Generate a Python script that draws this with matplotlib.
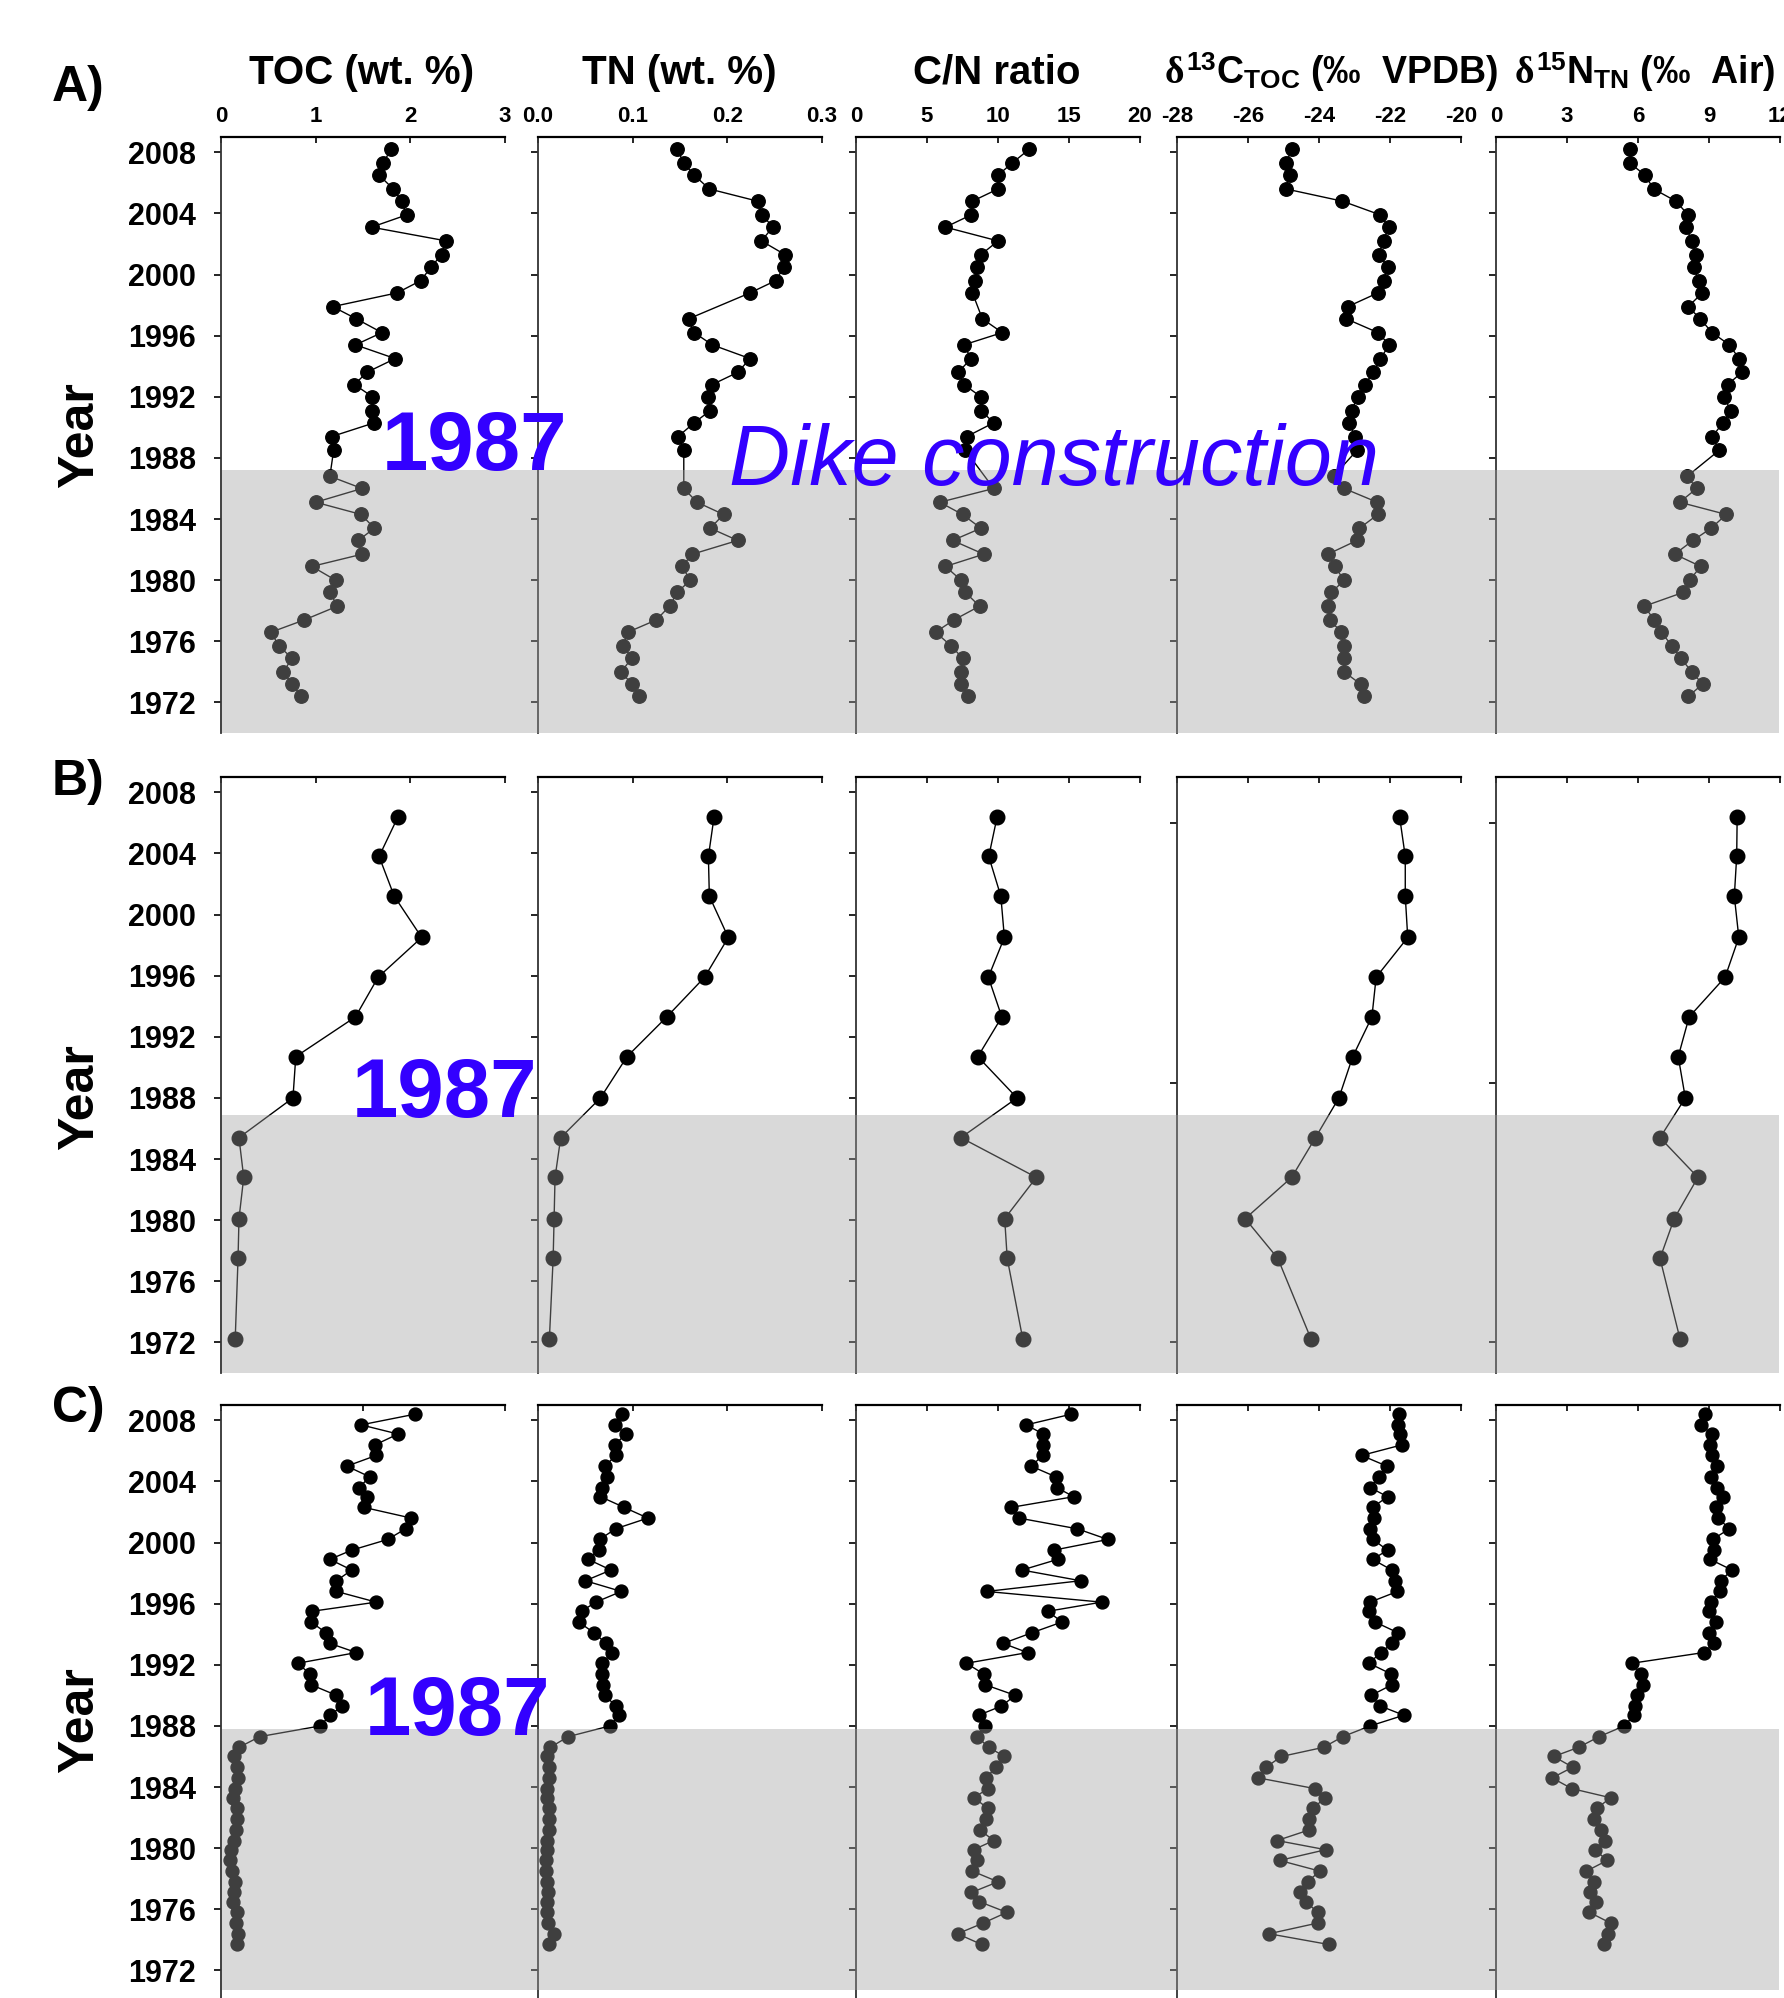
import numpy as np
import matplotlib
matplotlib.use("Agg")
import matplotlib.pyplot as plt
from matplotlib.patches import Rectangle
from matplotlib.transforms import blended_transform_factory

# ------------------------------
# Data
# ------------------------------
nan = np.nan

# Row A: core with yearly-ish sampling
years_a = [2008.2, 2007.3, 2006.5, 2005.6, 2004.8, 2003.9, 2003.1, 2002.2, 2001.3, 2000.5,
           1999.6, 1998.8, 1997.9, 1997.1, 1996.2, 1995.4, 1994.5, 1993.6, 1992.8, 1992.0,
           1991.1, 1990.3, 1989.4, 1988.5, 1986.8, 1986.0, 1985.1, 1984.3, 1983.4, 1982.6,
           1981.7, 1980.9, 1980.0, 1979.2, 1978.3, 1977.4, 1976.6, 1975.7, 1974.9, 1974.0,
           1973.2, 1972.4]
toc_a = [1.80, 1.71, 1.67, 1.82, 1.91, 1.96, 1.59, 2.38, 2.33, 2.22,
         2.11, 1.86, 1.18, 1.43, 1.70, 1.42, 1.84, 1.54, 1.41, 1.60,
         1.60, 1.62, 1.17, 1.19, 1.15, 1.49, 1.00, 1.48, 1.62, 1.45,
         1.49, 0.96, 1.21, 1.15, 1.23, 0.88, 0.53, 0.61, 0.75, 0.66,
         0.75, 0.85]
tn_a = [0.147, 0.154, 0.165, 0.181, 0.232, 0.237, 0.248, 0.236, 0.261, 0.260,
        0.251, 0.224, nan, 0.159, 0.165, 0.184, 0.224, 0.211, 0.184, 0.180,
        0.182, 0.165, 0.148, 0.154, nan, 0.154, 0.168, 0.196, 0.182, 0.211,
        0.163, 0.152, 0.161, 0.147, 0.139, 0.125, 0.095, 0.090, 0.099, 0.088,
        0.099, 0.107]
cn_a = [12.2, 11.0, 10.0, 10.0, 8.2, 8.1, 6.3, 10.0, 8.8, 8.5,
        8.4, 8.2, nan, 8.9, 10.3, 7.6, 8.1, 7.2, 7.6, 8.8,
        8.8, 9.7, 7.8, 7.7, nan, 9.7, 5.9, 7.5, 8.8, 6.8,
        9.0, 6.3, 7.4, 7.7, 8.7, 6.9, 5.6, 6.7, 7.5, 7.4,
        7.4, 7.9]
d13c_a = [-24.76, -24.93, -24.83, -24.93, -23.34, -22.27, -22.04, -22.18, -22.32, -22.06,
          -22.18, -22.34, -23.19, -23.23, -22.34, -22.02, -22.27, -22.47, -22.71, -22.91,
          -23.08, -23.16, -22.98, -22.93, -23.59, -23.29, -22.36, -22.34, -22.86, -22.93,
          -23.75, -23.56, -23.29, -23.65, -23.74, -23.70, -23.37, -23.30, -23.30, -23.29,
          -22.83, -22.73]
d15n_a = [5.67, 5.65, 6.30, 6.66, 7.60, 8.12, 8.01, 8.29, 8.44, 8.37,
          8.56, 8.72, 8.12, 8.63, 9.13, 9.86, 10.27, 10.39, 9.79, 9.64,
          9.91, 9.59, 9.14, 9.43, 8.08, 8.48, 7.76, 9.73, 9.09, 8.32,
          7.55, 8.65, 8.18, 7.91, 6.27, 6.68, 6.99, 7.43, 7.81, 8.27,
          8.73, 8.13]

# Row B: coarse sampling
years_b = [2006.4, 2003.8, 2001.2, 1998.5, 1995.9, 1993.3, 1990.7, 1988.0, 1985.4, 1982.8,
           1980.1, 1977.5, 1972.2]
toc_b = [1.87, 1.67, 1.83, 2.12, 1.66, 1.42, 0.79, 0.76, 0.19, 0.24, 0.19, 0.18, 0.15]
tn_b = [0.186, 0.180, 0.181, 0.201, 0.176, 0.136, 0.094, 0.066, 0.024, 0.018, 0.017, 0.016, 0.012]
cn_b = [9.94, 9.35, 10.2, 10.45, 9.32, 10.27, 8.58, 11.34, 7.39, 12.7, 10.47, 10.65, 11.75]
d13c_b = [-21.73, -21.57, -21.57, -21.50, -22.39, -22.51, -23.05, -23.44, -24.10, -24.77,
          -26.08, -25.16, -24.22]
d15n_b = [10.19, 10.17, 10.07, 10.26, 9.68, 8.16, 7.70, 8.00, 6.93, 8.53, 7.53, 6.93, 7.78]

# Row C: dense sampling
years_c = [2008.4, 2007.7, 2007.1, 2006.4, 2005.7, 2005.0, 2004.3, 2003.6, 2003.0, 2002.3,
           2001.6, 2000.9, 2000.2, 1999.5, 1998.9, 1998.2, 1997.5, 1996.8, 1996.1, 1995.5,
           1994.8, 1994.1, 1993.4, 1992.8, 1992.1, 1991.4, 1990.7, 1990.0, 1989.3, 1988.7,
           1988.0, 1987.3, 1986.6, 1986.0, 1985.3, 1984.6, 1983.9, 1983.3, 1982.6, 1981.9,
           1981.2, 1980.5, 1979.9, 1979.2, 1978.5, 1977.8, 1977.1, 1976.5, 1975.8, 1975.1,
           1974.4, 1973.7]
toc_c = [2.05, 1.48, 1.87, 1.63, 1.64, 1.33, 1.57, 1.46, 1.54, 1.51,
         2.01, 1.95, 1.76, 1.38, 1.15, 1.38, 1.22, 1.22, 1.64, 0.96,
         0.95, 1.11, 1.15, 1.43, 0.81, 0.94, 0.95, 1.22, 1.28, 1.15,
         1.05, 0.41, 0.19, 0.14, 0.17, 0.18, 0.15, 0.13, 0.17, 0.17,
         0.16, 0.14, 0.11, 0.10, 0.12, 0.15, 0.14, 0.13, 0.17, 0.16,
         0.18, 0.17]
tn_c = [0.089, 0.081, 0.093, 0.081, 0.082, 0.071, 0.073, 0.068, 0.066, 0.091,
        0.116, 0.082, 0.065, 0.064, 0.053, 0.077, 0.050, 0.088, 0.061, 0.046,
        0.043, 0.059, 0.072, 0.078, 0.068, 0.068, 0.069, 0.071, 0.082, 0.086,
        0.076, 0.032, 0.013, 0.009, 0.012, 0.012, 0.010, 0.010, 0.012, 0.012,
        0.012, 0.009, 0.009, 0.008, 0.008, 0.009, 0.011, 0.010, 0.010, 0.011,
        0.017, 0.012]
cn_c = [15.16, 11.99, 13.18, 13.18, 13.15, 12.34, 14.07, 14.12, 15.34, 10.92,
        11.48, 15.58, 17.74, 13.92, 14.21, 11.69, 15.82, 9.20, 17.30, 13.50,
        14.51, 12.40, 10.36, 12.08, 7.77, 8.99, 9.08, 11.22, 10.24, 8.64,
        9.05, 8.52, 9.35, 10.45, 9.85, 9.17, 9.29, 8.31, 9.29, 9.17,
        8.72, 9.70, 8.28, 8.49, 8.19, 10.00, 8.13, 8.69, 10.62, 8.96,
        7.15, 8.84]
d13c_c = [-21.75, -21.77, -21.73, -21.65, -22.80, -22.09, -22.31, -22.56, -22.07, -22.49,
          -22.46, -22.57, -22.48, -22.07, -22.49, -21.95, -21.85, -21.79, -22.56, -22.60,
          -22.42, -21.78, -21.94, -22.26, -22.59, -21.97, -21.94, -22.53, -22.27, -21.61,
          -22.56, -23.33, -23.87, -25.06, -25.49, -25.71, -24.12, -23.83, -24.17, -24.28,
          -24.27, -25.18, -23.81, -25.11, -23.98, -24.32, -24.54, -24.38, -24.03, -24.04,
          -25.41, -23.73]
d15n_c = [8.84, 8.65, 9.13, 9.05, 9.11, 9.32, 9.10, 9.35, 9.61, 9.28,
          9.39, 9.86, 9.15, 9.23, 9.05, 9.97, 9.49, 9.47, 9.08, 8.99,
          9.30, 8.98, 9.22, 8.77, 5.74, 6.12, 6.20, 5.95, 5.89, 5.83,
          5.42, 4.36, 3.49, 2.44, 3.24, 2.37, 3.20, 4.84, 4.26, 4.12,
          4.45, 4.62, 4.17, 4.70, 3.82, 4.12, 3.99, 4.22, 3.95, 4.84,
          4.75, 4.55]

# shaded (pre-dike) period per row: bottom year, top year
shade_a = (1970.0, 1987.2)
shade_b = (1970.0, 1986.9)
shade_c = (1970.7, 1987.8)

col_titles = ["TOC (wt. %)", "TN (wt. %)", "C/N ratio",
              r"$\delta^{13}$C$_{\mathrm{TOC}}$ (‰  VPDB)",
              r"$\delta^{15}$N$_{\mathrm{TN}}$ (‰  Air)"]
row_labels = ["A)", "B)", "C)"]
year_ticks = [2008, 2004, 2000, 1996, 1992, 1988, 1984, 1980, 1976, 1972]
year_ticks_b_iso = [2006, 1989, 1972]

x_limits = [(0, 3), (0, 0.3), (0, 20), (-28, -20), (0, 12)]
x_ticks = [[0, 1, 2, 3], [0.0, 0.1, 0.2, 0.3], [0, 5, 10, 15, 20],
           [-28, -26, -24, -22, -20], [0, 3, 6, 9, 12]]
x_ticklabels = [["0", "1", "2", "3"], ["0.0", "0.1", "0.2", "0.3"],
                ["0", "5", "10", "15", "20"], ["-28", "-26", "-24", "-22", "-20"],
                ["0", "3", "6", "9", "12"]]
toc_ticks_c = [0, 1.5, 3]

rows = [
    (years_a, [toc_a, tn_a, cn_a, d13c_a, d15n_a], shade_a),
    (years_b, [toc_b, tn_b, cn_b, d13c_b, d15n_b], shade_b),
    (years_c, [toc_c, tn_c, cn_c, d13c_c, d15n_c], shade_c),
]

# ------------------------------
# Style / layout (pixels of a 1784 x 1998 canvas)
# ------------------------------
plt.rcParams["font.family"] = ["Liberation Sans", "DejaVu Sans"]
plt.rcParams["font.weight"] = "bold"
plt.rcParams["mathtext.fontset"] = "custom"
plt.rcParams["mathtext.rm"] = "Liberation Sans:bold"
plt.rcParams["mathtext.bf"] = "Liberation Sans:bold"
plt.rcParams["mathtext.it"] = "Liberation Serif"

W, H = 1784, 1998
col_left = [221, 538, 856, 1177, 1496]
col_w = 284
row_top = [137, 777, 1405]
row_h = 596
marker_size = [9.7, 10.5, 9.3]
blue = "#3300ff"

fig = plt.figure(figsize=(W / 100, H / 100), dpi=100)


def px_axes(left, top, w, h):
    return fig.add_axes([left / W, 1 - (top + h) / H, w / W, h / H])


def fig_y(py):
    return 1 - py / H


for r, (yrs, series, shade) in enumerate(rows):
    yrs = np.array(yrs)
    row_axes = []
    for c, vals in enumerate(series):
        ax = px_axes(col_left[c], row_top[r], col_w, row_h)
        row_axes.append(ax)
        v = np.array(vals, dtype=float)
        m = ~np.isnan(v)
        ax.plot(v[m], yrs[m], color="black", lw=1.0, marker="o",
                ms=marker_size[r], mfc="black", mec="black", zorder=3)
        ax.set_xlim(*x_limits[c])
        ax.set_ylim(1970, 2009)

        for side in ("right", "bottom"):
            ax.spines[side].set_visible(False)
        ax.spines["top"].set_linewidth(1.6)
        ax.spines["left"].set_linewidth(1.3)
        ax.spines["left"].set_color("#333333")

        ax.xaxis.set_ticks_position("top")
        if r == 2 and c == 0:
            ax.set_xticks(toc_ticks_c)
        else:
            ax.set_xticks(x_ticks[c])
        if r == 0:
            ax.set_xticklabels(x_ticklabels[c])
            ax.tick_params(axis="x", labeltop=True, labelsize=16, pad=7)
        else:
            ax.tick_params(axis="x", labeltop=False)
        ax.tick_params(axis="x", direction="in", length=4.5, width=1.2)

        if r == 1 and c >= 3:
            ax.set_yticks(year_ticks_b_iso)
        else:
            ax.set_yticks(year_ticks)
        ax.tick_params(axis="y", direction="out", length=5, width=1.2,
                       labelsize=22, pad=13, labelleft=(c == 0))

    # translucent grey band over the pre-dike part of the row
    trans = blended_transform_factory(fig.transFigure, row_axes[0].transData)
    x0, x1 = 222 / W, 1779 / W
    band = Rectangle((x0, shade[0]), x1 - x0, shade[1] - shade[0], transform=trans,
                     facecolor=(0.627, 0.627, 0.627), alpha=0.4, edgecolor="none",
                     zorder=5, clip_on=False)
    fig.add_artist(band)

# column titles
title_cx = [362, 679, 997, 1331, 1645]
title_size = [29, 29, 29, 27, 27]
for cx, t, fs in zip(title_cx, col_titles, title_size):
    fig.text(cx / W, fig_y(84), t, ha="center", va="baseline", fontsize=fs)

# row labels and "Year"
label_base = [101, 795, 1422]
year_cy = [435, 1097, 1720]
for r in range(3):
    fig.text(52 / W, fig_y(label_base[r]), row_labels[r], ha="left", va="baseline",
             fontsize=36)
    fig.text(80 / W, fig_y(year_cy[r]), "Year", rotation=90, ha="center",
             va="center", fontsize=36)

# 1987 annotations
txt_pos = [(382, 470), (352, 1117), (365, 1735)]
for px, py in txt_pos:
    fig.text(px / W, fig_y(py), "1987", color=blue, fontsize=60, ha="left",
             va="baseline", zorder=10)
fig.text(729 / W, fig_y(485), "Dike construction", color=blue, fontsize=61,
         fontweight="normal", fontstyle="italic", ha="left", va="baseline", zorder=10)

fig.savefig("out.png", dpi=100)
